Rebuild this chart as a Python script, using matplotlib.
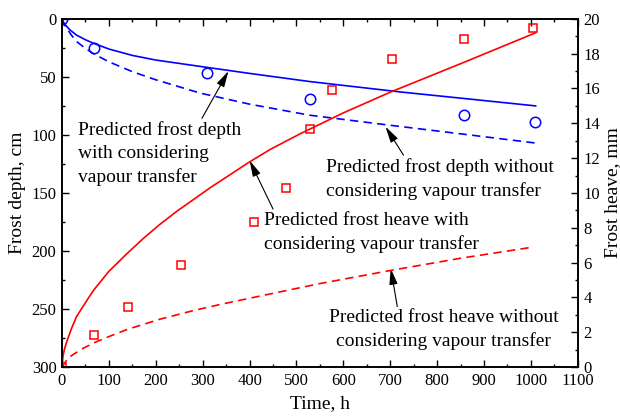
import numpy as np
import matplotlib
matplotlib.use("Agg")
import matplotlib.pyplot as plt
from matplotlib.ticker import MultipleLocator

plt.rcParams['font.family'] = ['Liberation Serif', 'DejaVu Serif']

# measured frost depth (cm) and frost heave (mm)
t_depth = [0, 68, 310, 528, 857, 1009]
depth_meas = [0, 25, 46.5, 69, 83, 88.5]
t_heave = [0, 68, 141, 254, 409, 478, 528, 575, 704, 857, 1005]
heave_meas = [0, 1.86, 3.47, 5.86, 8.33, 10.3, 13.66, 15.9, 17.7, 18.83, 19.47]

# predicted frost depth, with / without vapour transfer
t_dw = [0, 2, 5, 10, 17, 31, 50, 67, 100, 150, 200, 295, 400, 528, 722, 857, 1010]
depth_with = [0, 2.5, 4, 6.5, 9.5, 14, 18, 21, 26, 31.5, 35.5, 41, 47, 54, 63, 68.6, 75]
t_dn = [0, 5, 10, 20, 31, 50, 67, 100, 150, 200, 295, 400, 528, 686, 857, 1010]
depth_without = [0, 5, 8, 14, 19.5, 25.5, 30, 37, 45.5, 52.5, 64, 73.5, 83, 91, 99.4, 107]

# predicted frost heave, with / without vapour transfer
t_hw = [0, 2, 5, 10, 20, 31, 50, 67, 100, 138, 174, 209, 245, 316, 398, 444, 508, 600, 701, 857, 1010]
heave_with = [0, 0.6, 1.0, 1.45, 2.2, 2.9, 3.7, 4.4, 5.5, 6.5, 7.4, 8.2, 8.95, 10.3, 11.75, 12.5,
              13.4, 14.6, 15.8, 17.5, 19.2]
t_hn = [0, 10, 20, 40, 67, 100, 138, 209, 281, 338, 444, 551, 701, 850, 1002]
heave_without = [0, 0.4, 0.65, 1.0, 1.38, 1.75, 2.15, 2.75, 3.25, 3.6, 4.2, 4.8, 5.55, 6.25, 6.88]

fig = plt.figure(figsize=(6.2, 4.19), dpi=100)
ax = fig.add_axes([0.1, 0.124, 0.832, 0.831])
ax2 = ax.twinx()

blue = '#0000ff'
red = '#ff0000'
dash = (0, (5, 3.2))

ax.plot(t_dw, depth_with, color=blue, lw=1.2)
ax.plot(t_dn, depth_without, color=blue, lw=1.2, ls=dash)
ax.plot(t_depth, depth_meas, 'o', mfc='none', mec=blue, ms=7.5, mew=1.1)

ax2.plot(t_hw, heave_with, color=red, lw=1.2)
ax2.plot(t_hn, heave_without, color=red, lw=1.2, ls=dash)
ax2.plot(t_heave, heave_meas, 's', mfc='none', mec=red, ms=6, mew=1.1)

ax.set_xlim(0, 1100)
ax.set_ylim(300, 0)
ax2.set_ylim(0, 20)

ax.xaxis.set_major_locator(MultipleLocator(100))
ax.xaxis.set_minor_locator(MultipleLocator(50))
ax.yaxis.set_major_locator(MultipleLocator(50))
ax.yaxis.set_minor_locator(MultipleLocator(25))
ax2.yaxis.set_major_locator(MultipleLocator(2))
ax2.yaxis.set_minor_locator(MultipleLocator(1))

for a in (ax, ax2):
    a.tick_params(which='major', direction='in', length=5, width=1, labelsize=12, pad=4)
    a.tick_params(which='minor', direction='in', length=2.5, width=1)
    for s in a.spines.values():
        s.set_linewidth(1.2)
ax.tick_params(axis='x', which='both', top=True)
ax.tick_params(axis='y', which='both', right=False)

ax.set_xlabel('Time, h', fontsize=14, labelpad=5)
ax.set_ylabel('Frost depth, cm', fontsize=14, labelpad=4)
ax2.set_ylabel('Frost heave, mm', fontsize=14, labelpad=3)

arrow = dict(arrowstyle='-|>,head_length=0.7,head_width=0.18', color='k', lw=0.8,
             shrinkA=0, shrinkB=0)
fs = 14
ax.annotate('Predicted frost depth\nwith considering\nvapour transfer',
            xy=(355, 45), xytext=(34, 116), fontsize=fs, ha='left', va='center',
            linespacing=1.45, arrowprops=dict(arrow, relpos=(0.75, 1.0)))
ax.annotate('Predicted frost depth without\nconsidering vapour transfer',
            xy=(690, 93), xytext=(562, 138), fontsize=fs, ha='left', va='center',
            linespacing=1.45, arrowprops=dict(arrow, relpos=(0.35, 1.0)))
ax.annotate('Predicted frost heave with\nconsidering vapour transfer',
            xy=(400, 122), xytext=(430, 184), fontsize=fs, ha='left', va='center',
            linespacing=1.45, arrowprops=dict(arrow, relpos=(0.05, 1.0)))
ax.annotate('Predicted frost heave without\nconsidering vapour transfer',
            xy=(701, 215), xytext=(814, 268), fontsize=fs, ha='center', va='center',
            linespacing=1.45, arrowprops=dict(arrow, relpos=(0.3, 1.0)))

fig.savefig('out.png', dpi=100)
